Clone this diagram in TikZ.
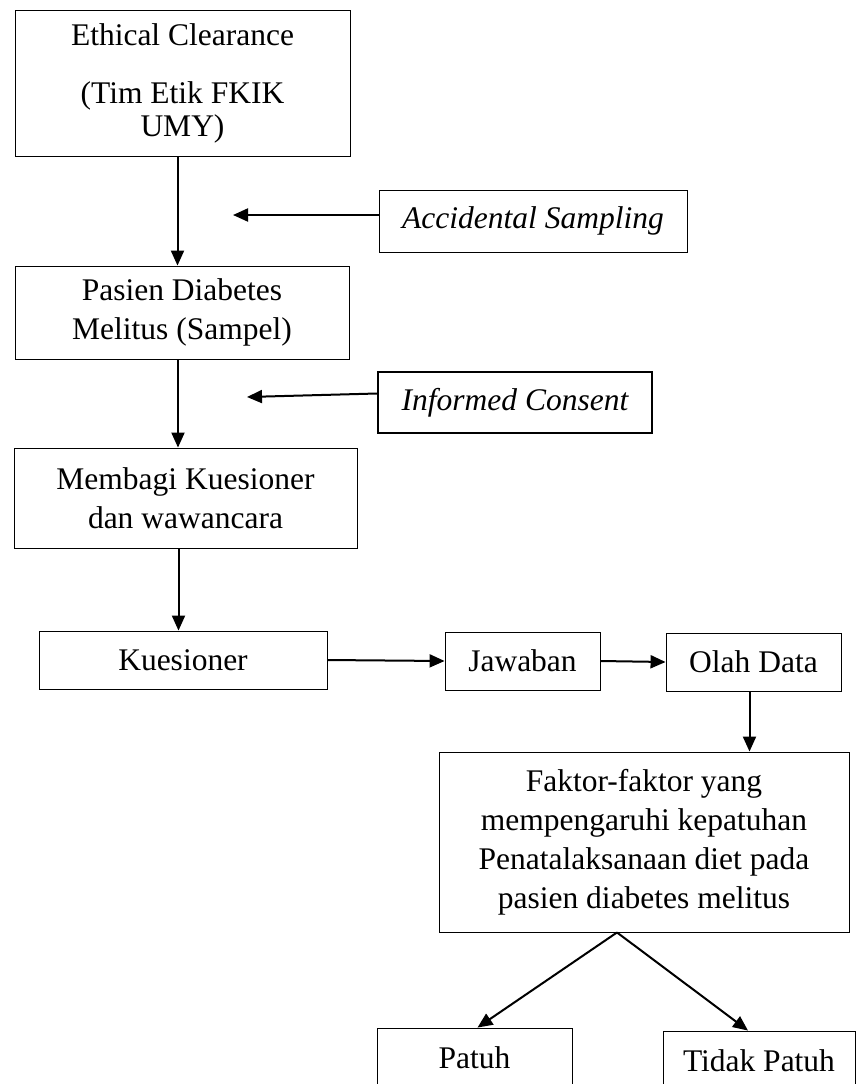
\documentclass[tikz,border=0pt]{standalone}
\usepackage{fontspec}
\setmainfont{Liberation Serif}
\usetikzlibrary{arrows.meta}
\tikzset{
    kotak/.style={draw, line width=0.9pt, align=center, inner sep=0pt,
        font=\fontsize{31.5}{39}\selectfont},
    panah/.style={line width=2pt, -{Triangle[length=15pt,width=13pt]}}
}
\begin{document}
\begin{tikzpicture}[x=1pt,y=-1pt]

    \useasboundingbox (0,0) rectangle (856,1084);

    % kolom kiri
    \node[kotak, minimum width=335pt, minimum height=146pt] (eth) at (182.5,83)
        {Ethical Clearance\\[19pt](Tim Etik FKIK\\[-6pt]UMY)};
    \node[kotak, minimum width=334pt, minimum height=93pt] (pas) at (182,312.5)
        {Pasien Diabetes\\Melitus (Sampel)};
    \node[kotak, minimum width=343pt, minimum height=100pt] (mem) at (185.5,498)
        {Membagi Kuesioner\\dan wawancara};
    \node[kotak, minimum width=288pt, minimum height=58pt] (kue) at (183,660) {Kuesioner};

    % keterangan samping
    \node[kotak, font=\fontsize{31.5}{39}\selectfont\itshape,
        minimum width=308pt, minimum height=62pt] (acc) at (533,221) {Accidental Sampling};
    \node[kotak, line width=2pt, font=\fontsize{31.5}{39}\selectfont\itshape,
        minimum width=274pt, minimum height=61pt] (inf) at (515,402.5) {Informed Consent};
    \coordinate (a1) at (233,215);
    \coordinate (a2) at (247,397);

    \node[kotak, minimum width=155pt, minimum height=58pt] (jaw) at (522.5,661) {Jawaban};
    \node[kotak, minimum width=175pt, minimum height=58pt] (olah) at (753.5,662) {Olah Data};
    \node[kotak, minimum width=410pt, minimum height=180pt] (fak) at (644,842)
        {Faktor-faktor yang\\mempengaruhi kepatuhan\\Penatalaksanaan diet pada\\pasien diabetes melitus};
    \node[kotak, minimum width=195pt, minimum height=60pt] (patuh) at (474.5,1058) {Patuh};
    \node[kotak, minimum width=192pt, minimum height=60pt] (tidak) at (759,1061) {Tidak Patuh};
    \coordinate (pucuk) at ([xshift=-27pt]fak.south);

    \draw[panah] ([xshift=-5pt]eth.south) -- ([xshift=-5pt]eth.south |- pas.north);
    \draw[panah] ([yshift=6pt]acc.west) -- (a1);
    \draw[panah] ([xshift=-4pt]pas.south) -- ([xshift=-4pt]pas.south |- mem.north);
    \draw[panah] ([yshift=9pt]inf.west) -- (a2);
    \draw[panah] ([xshift=-7pt]mem.south) -- ([xshift=-7pt]mem.south |- kue.north);
    \draw[panah] (kue.east) -- (jaw.west);
    \draw[panah] (jaw.east) -- (olah.west);
    \draw[panah] ([xshift=-4pt]olah.south) -- ([xshift=-4pt]olah.south |- fak.north);
    \draw[panah] (pucuk) -- ([xshift=3pt]patuh.north);
    \draw[panah] (pucuk) -- ([xshift=-11pt]tidak.north);

\end{tikzpicture}
\end{document}
